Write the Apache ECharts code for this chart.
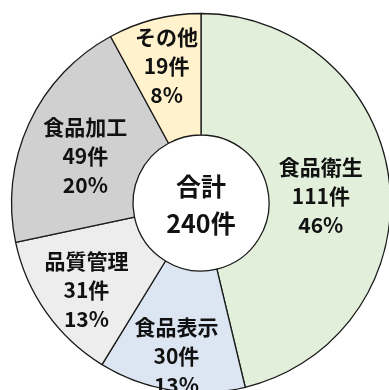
<!DOCTYPE html>
<html>
<head>
<meta charset="utf-8">
<script src="https://cdn.jsdelivr.net/npm/echarts@6/dist/echarts.min.js"></script>
<style>
  html, body { margin: 0; padding: 0; background: #ffffff; }
  #chart { width: 389px; height: 390px; }
</style>
</head>
<body>
<div id="chart"></div>
<script>
// Inquiry counts by category (clockwise from 12 o'clock)
const categories = ['食品衛生', '食品表示', '品質管理', '食品加工', 'その他'];
const counts = [111, 30, 31, 49, 19];
const colors = ['#e2efda', '#dce6f2', '#ededed', '#d0d0d0', '#fff2cc'];

// Small nudges so each label block sits comfortably inside its slice
const labelNudge = [[-11, 9], [-4, 23], [-7, 11], [4, 8], [-2, -9]];

const total = counts.reduce((a, b) => a + b, 0);
const FONT = '"Noto Sans CJK JP", "Noto Sans", sans-serif';

const chart = echarts.init(document.getElementById('chart'), null, { renderer: 'canvas' });

chart.setOption({
  backgroundColor: '#ffffff',
  animation: false,
  series: [{
    type: 'pie',
    center: [201, 203],
    radius: [68, 189.5],
    startAngle: 90,
    clockwise: true,
    avoidLabelOverlap: false,
    itemStyle: { borderColor: '#1a1a1a', borderWidth: 1.3 },
    label: {
      show: true,
      position: 'inside',
      color: '#111111',
      fontFamily: FONT,
      fontWeight: 'bold',
      fontSize: 21,
      lineHeight: 29,
      align: 'center',
      formatter: p => p.name + '\n' + p.value + '件\n' + Math.round(p.percent) + '%'
    },
    labelLine: { show: false },
    emphasis: { disabled: true },
    data: categories.map((name, i) => ({
      name: name,
      value: counts[i],
      itemStyle: { color: colors[i] },
      label: { offset: labelNudge[i] }
    }))
  }],
  graphic: [{
    type: 'text',
    x: 201,
    y: 205,
    z: 100,
    style: {
      text: '合計\n' + total + '件',
      font: 'bold 25px ' + FONT,
      lineHeight: 37,
      fill: '#111111',
      align: 'center',
      verticalAlign: 'middle'
    }
  }]
});
</script>
</body>
</html>
